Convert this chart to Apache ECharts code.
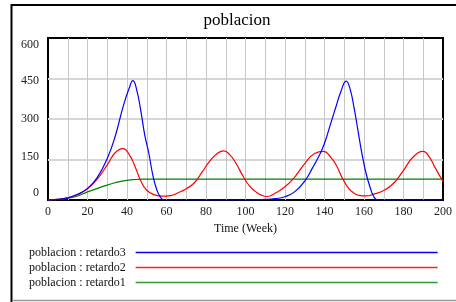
<!DOCTYPE html>
<html>
<head>
<meta charset="utf-8">
<script src="https://cdn.jsdelivr.net/npm/echarts@6/dist/echarts.min.js"></script>
<style>
  html, body { margin: 0; padding: 0; background: #fff; }
  #chart { width: 456px; height: 302px; }
</style>
</head>
<body>
<div id="chart"></div>
<script>
// valores (Time en semanas)
const retardo3Weeks = [0, 5, 10, 15, 20, 25, 30, 34, 38, 41, 43, 45, 47, 49, 51, 53, 55, 57, 59, 80, 100, 110, 115, 120, 125, 130, 134, 137, 140, 143, 146, 148, 151, 153, 155, 157, 159, 161, 163, 165, 167, 180, 200];
const retardo3Values = [0, 2, 8, 21, 43, 84, 154, 235, 345, 412, 442, 405, 330, 240, 175, 95, 40, 10, 0, 0, 0, 2, 5, 12, 31, 70, 120, 160, 210, 280, 350, 395, 440, 410, 340, 255, 170, 100, 49, 12, 0, 0, 0];

const retardo2Weeks = [0, 5, 10, 15, 20, 25, 30, 34, 38, 41, 44, 47, 50, 54, 58, 62, 66, 70, 74, 78, 82, 86, 89, 92, 95, 99, 102, 105, 108, 111, 115, 120, 125, 130, 135, 139.5, 143, 146, 149, 152, 155, 158, 161, 165, 170, 175, 180, 185, 190, 193, 196, 200];
const retardo2Values = [0, 2, 8, 20, 42, 78, 130, 175, 190, 170, 125, 70, 36, 19, 14, 16, 27, 42, 63, 103, 145, 174, 182, 168, 138, 85, 52, 32, 18, 13, 25, 49, 86, 135, 172, 180, 160, 128, 82, 45, 25, 16, 15, 22, 35, 62, 110, 160, 180, 160, 120, 68];

const retardo1Weeks = [0, 5, 10, 15, 20, 25, 30, 35, 40, 45, 48, 200];
const retardo1Values = [0, 2, 7, 15, 30, 43, 55, 66, 73, 76, 77, 77];

const yTicks = [0, 150, 300, 450, 600];
// desplazamiento de las etiquetas del eje y (estilo Vensim)
const yLabelStyle = { 0: 'lo2', 150: 'lo1', 300: 'mid', 450: 'hi1', 600: 'hi2' };

function pairs(ws, vs) {
    return ws.map((w, i) => [w, vs[i]]);
}

const myChart = echarts.init(document.getElementById('chart'));
const serif = '"Liberation Serif", "Times New Roman", serif';

const option = {
    animation: false,
    title: {
        text: 'poblacion',
        left: 237,
        top: 12,
        padding: 0,
        textAlign: 'center',
        textStyle: { fontFamily: serif, fontSize: 17, fontWeight: 'normal', color: '#000' }
    },
    grid: {
        left: 48, right: 13, top: 38, bottom: 102,
        show: true,
        borderColor: '#000',
        borderWidth: 2
    },
    xAxis: {
        type: 'value',
        min: 0, max: 200, interval: 10,
        name: 'Time (Week)',
        nameLocation: 'middle',
        nameGap: 19,
        nameTextStyle: { fontFamily: serif, fontSize: 12, color: '#111' },
        axisLine: { show: false },
        axisTick: { show: false },
        axisLabel: {
            margin: 6,
            fontFamily: serif, fontSize: 12, color: '#222',
            formatter: v => (v % 20 === 0 ? String(v) : '')
        },
        splitLine: { show: true, showMinLine: false, showMaxLine: false, lineStyle: { color: '#c6c6c6', width: 1 } }
    },
    yAxis: {
        type: 'value',
        min: 0, max: 600, interval: 150,
        axisLine: { show: false },
        axisTick: { show: false },
        axisLabel: {
            margin: 9,
            fontFamily: serif, fontSize: 12, color: '#222',
            formatter: v => (yTicks.indexOf(v) >= 0 ? '{' + yLabelStyle[v] + '|' + v + '}' : ''),
            rich: {
                lo2: { fontFamily: serif, fontSize: 12, color: '#222', padding: [0, 0, 14, 0] },
                lo1: { fontFamily: serif, fontSize: 12, color: '#222', padding: [0, 0, 6, 0] },
                mid: { fontFamily: serif, fontSize: 12, color: '#222' },
                hi1: { fontFamily: serif, fontSize: 12, color: '#222', padding: [5, 0, 0, 0] },
                hi2: { fontFamily: serif, fontSize: 12, color: '#222', padding: [14, 0, 0, 0] }
            }
        },
        splitLine: { show: true, showMinLine: false, showMaxLine: false, lineStyle: { color: '#d6d6d6', width: 2 } }
    },
    legend: {
        orient: 'vertical',
        left: 29,
        top: 245,
        align: 'right',
        icon: 'rect',
        itemWidth: 302,
        itemHeight: 1.5,
        itemGap: 0,
        selectedMode: false,
        padding: 0,
        data: ['poblacion : retardo3', 'poblacion : retardo2', 'poblacion : retardo1'],
        textStyle: { fontFamily: serif, fontSize: 12, color: '#111', lineHeight: 15, padding: [0, 5, 0, 0] }
    },
    graphic: [
        // marco exterior
        { type: 'line', shape: { x1: 11.5, y1: 4, x2: 11.5, y2: 302 }, style: { stroke: '#000', lineWidth: 2 } },
        { type: 'line', shape: { x1: 11, y1: 5, x2: 456, y2: 5 }, style: { stroke: '#000', lineWidth: 2 } },
        { type: 'line', shape: { x1: 12, y1: 300.5, x2: 456, y2: 300.5 }, style: { stroke: '#999', lineWidth: 1.5 } }
    ],
    series: [
        {
            name: 'poblacion : retardo3', type: 'line', data: pairs(retardo3Weeks, retardo3Values),
            showSymbol: false, smooth: 0.5,
            lineStyle: { color: '#0000ff', width: 1.2 }, itemStyle: { color: '#0000ff' }, z: 4
        },
        {
            name: 'poblacion : retardo2', type: 'line', data: pairs(retardo2Weeks, retardo2Values),
            showSymbol: false, smooth: 0.5,
            lineStyle: { color: '#ff0000', width: 1.2 }, itemStyle: { color: '#ff2020' }, z: 3
        },
        {
            name: 'poblacion : retardo1', type: 'line', data: pairs(retardo1Weeks, retardo1Values),
            showSymbol: false, smooth: 0.5,
            lineStyle: { color: '#008000', width: 1.2 }, itemStyle: { color: '#339933' }, z: 2
        }
    ]
};

myChart.setOption(option);
</script>
</body>
</html>
